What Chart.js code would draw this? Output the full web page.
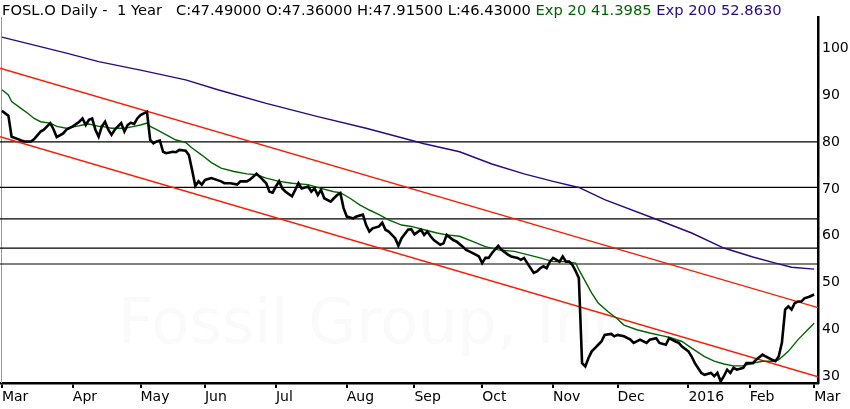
<!DOCTYPE html>
<html>
<head>
<meta charset="utf-8">
<script src="https://cdn.jsdelivr.net/npm/chart.js@4.4.1/dist/chart.umd.min.js"></script>
<style>
body{margin:0;background:#fff;}
#wrap{position:relative;width:850px;height:409px;}
#head{position:absolute;left:2px;top:2px;font:14.7px "DejaVu Sans";line-height:15px;white-space:pre;color:#000;z-index:2;}
#head .g{color:#006400;}
#head .b{color:#2a0a80;}
</style>
</head>
<body>
<div id="wrap">
<div id="head">FOSL.O Daily -  1 Year   C:47.49000 O:47.36000 H:47.91500 L:46.43000 <span class="g">Exp 20 41.3985</span> <span class="b">Exp 200 52.8630</span></div>
<canvas id="chart"></canvas>
</div>
<script>
// x values are trading-day index from 2 Mar 2015
const closeDays = [0,2,3,5,6,7,9,10,12,13,15,16,17,19,20,22,24,25,26,27,28,29,30,31,32,33,34,35,36,37,38,39,40,41,42,43,45,46,47,48,49,50,51,53,54,55,57,58,59,60,61,62,63,65,68,69,71,73,74,76,77,79,80,82,83,84,85,86,87,88,90,91,92,93,95,96,97,98,99,100,102,103,104,105,106,107,109,110,112,113,114,115,117,118,119,120,122,123,124,126,127,128,130,131,132,133,134,136,137,138,140,141,143,144,145,147,148,149,150,151,152,154,155,157,158,160,161,162,163,165,166,167,168,169,170,171,173,174,175,176,177,178,179,180,181,182,183,184,185,186,187,189,190,191,193,195,196,198,200,201,203,204,206,207,209,210,211,213,214,215,217,218,220,221,222,223,224,225,226,227,228,230,231,233,234,236,237,239,240,241,242,243,244,245,246,247,248,249,250,251,252];
const closeValues = [86.6,85.6,81.1,80.6,80.3,80.1,80.1,80.6,82.2,82.6,84.0,82.7,81.0,81.8,82.6,83.3,84.3,85.0,83.6,84.7,85.0,82.6,81.1,83.3,84.3,82.6,81.5,82.6,83.3,84.0,82.2,83.6,84.1,83.8,85.0,85.7,86.4,80.4,79.7,80.1,80.3,77.9,77.6,77.9,77.8,78.3,78.1,77.2,74.0,70.6,71.6,70.9,71.9,72.3,71.6,71.2,71.2,70.9,71.6,71.6,72.0,73.2,72.6,71.2,69.4,69.2,70.5,71.6,70.1,69.4,68.4,69.8,71.2,70.1,70.5,69.4,70.1,68.7,69.8,68.0,67.3,68.0,68.7,69.1,65.9,64.1,63.7,64.1,64.5,62.3,60.9,61.6,62.0,62.8,61.3,60.9,59.5,57.9,59.5,61.3,61.4,60.3,61.3,60.2,60.9,59.9,59.1,58.1,58.4,60.2,59.1,58.8,57.7,57.0,56.7,56.0,55.6,54.2,55.3,55.3,56.3,57.9,57.0,56.0,55.6,55.3,54.9,55.3,54.2,52.1,52.4,53.1,53.5,53.1,54.5,55.3,54.5,55.6,54.5,54.5,53.8,52.5,51.0,32.9,32.2,34.0,35.4,36.1,36.8,37.5,38.9,39.1,38.6,38.9,38.6,37.9,37.2,37.9,37.2,37.9,38.2,37.2,36.8,38.2,37.5,37.2,36.4,35.4,34.3,32.9,30.8,30.4,30.8,30.1,30.8,29.0,30.1,31.5,30.8,31.9,31.5,31.9,32.9,32.9,33.6,34.7,34.3,33.6,33.3,34.3,37.2,44.3,45.0,44.3,45.7,46.0,46.0,46.7,46.9,47.2,47.5];

const ema20Days = [0,2,3,6,8,10,12,15,17,20,23,25,27,30,31,34,38,41,43,45,46,48,51,54,57,59,62,65,68,72,76,79,82,86,90,95,99,103,105,108,111,114,117,120,124,127,131,135,138,142,146,150,154,159,163,167,171,175,178,179,181,183,185,188,191,193,197,201,205,207,211,214,218,221,224,227,230,233,236,239,241,244,247,250,252];
const ema20Values = [91.1,90.0,88.6,87.1,86.1,85.0,84.3,84.0,83.3,82.9,83.3,83.6,83.8,83.3,83.3,82.9,82.9,83.3,83.6,84.0,83.3,82.6,81.5,80.4,79.9,78.7,77.2,75.6,74.4,73.7,73.2,73.0,72.3,71.6,71.2,70.9,70.1,69.4,69.2,68.0,66.6,65.5,64.5,63.4,62.3,62.0,61.3,60.6,60.2,59.9,58.8,57.7,57.0,56.7,56.0,55.3,54.5,54.5,54.2,52.8,50.3,47.8,45.7,43.9,42.3,41.0,40.0,39.3,38.7,38.4,37.5,36.1,34.3,33.3,32.7,32.3,32.3,32.9,33.3,33.3,33.6,35.4,37.9,40.0,41.4];

const ema200Days = [0,10,20,30,43,57,67,82,98,113,131,142,152,162,171,179,187,202,214,224,233,240,245,252];
const ema200Values = [102.3,100.6,98.9,97.1,95.3,93.2,91.1,88.2,85.4,82.9,79.6,77.9,75.3,73.2,71.6,70.3,67.7,63.8,60.6,57.4,55.5,54.2,53.3,52.9];

const channelDays = [-0.6,253.2];
const upperChannel = [95.7,44.7];
const lowerChannel = [81.1,30.0];
const levels = [80,70.3,63.6,57.4,54.0];

const monthTicks = [0,22,43,63,85,107,128,149,171,191,213,232,252];
const monthLabels = ["Mar","Apr","May","Jun","Jul","Aug","Sep","Oct","Nov","Dec","2016","Feb","Mar"];
const priceTicks = [30,40,50,60,70,80,90,100];

function pts(xs, ys){
    return xs.map((x, i) => ({x: x, y: ys[i]}));
}

const datasets = [
    {data: pts(closeDays, closeValues), borderColor: "#000", borderWidth: 2.6},
    {data: pts(ema20Days, ema20Values), borderColor: "#006400", borderWidth: 1.4},
    {data: pts(ema200Days, ema200Values), borderColor: "#2a0a80", borderWidth: 1.4},
    {data: pts(channelDays, upperChannel), borderColor: "#ff1a00", borderWidth: 1.4},
    {data: pts(channelDays, lowerChannel), borderColor: "#ff1a00", borderWidth: 1.4}
];
levels.forEach(v => {
    datasets.push({data: pts(channelDays, [v, v]), borderColor: "#000", borderWidth: 1.2});
});
datasets.forEach(d => { d.pointRadius = 0; d.tension = 0; d.fill = false; });

const watermark = {
    id: "watermark",
    beforeDatasetsDraw(chart){
        const c = chart.ctx;
        c.save();
        c.fillStyle = "#fafafa";
        c.font = "62px 'DejaVu Sans'";
        c.textBaseline = "alphabetic";
        c.fillText("Fossil Group, Inc.", 118, 343);
        c.strokeStyle = "#999";
        c.lineWidth = 1;
        c.beginPath();
        c.moveTo(1.5, chart.chartArea.top);
        c.lineTo(1.5, chart.chartArea.bottom);
        c.stroke();
        c.restore();
    }
};

new Chart(document.getElementById("chart"), {
    type: "line",
    data: {datasets: datasets},
    plugins: [watermark],
    options: {
        responsive: true,
        maintainAspectRatio: false,
        animation: false,
        layout: {padding: {top: 17, left: 0, right: 0, bottom: 0}},
        plugins: {legend: {display: false}, tooltip: {enabled: false}},
        scales: {
            x: {
                type: "linear",
                min: -0.6,
                max: 253.2,
                afterBuildTicks: s => { s.ticks = monthTicks.map(v => ({value: v})); },
                afterFit: s => { s.height = 26; },
                ticks: {
                    callback: (v, i) => monthLabels[i],
                    align: "start",
                    autoSkip: false,
                    maxRotation: 0,
                    padding: 1,
                    color: "#000",
                    font: {family: "DejaVu Sans", size: 14}
                },
                grid: {drawOnChartArea: false, drawTicks: true, tickLength: 5, color: "#000", lineWidth: 2},
                border: {color: "#000", width: 2.5}
            },
            y: {
                position: "right",
                min: 28.66,
                max: 106.6,
                afterBuildTicks: s => { s.ticks = priceTicks.map(v => ({value: v})); },
                afterFit: s => { s.width = 32; },
                ticks: {
                    padding: 4,
                    color: "#000",
                    font: {family: "DejaVu Sans", size: 14}
                },
                grid: {drawOnChartArea: false, drawTicks: false},
                border: {color: "#000", width: 2.5}
            }
        }
    }
});
</script>
</body>
</html>
